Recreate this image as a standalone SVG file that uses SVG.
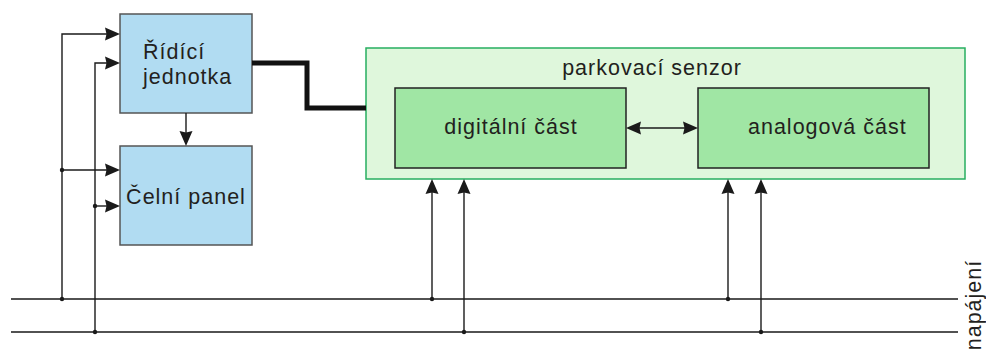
<svg xmlns="http://www.w3.org/2000/svg" xmlns:xlink="http://www.w3.org/1999/xlink" width="986" height="354" viewBox="0 0 986 354">
<defs>
<path id="ah" d="M-15,-6.5 L0,0 L-15,6.5 L-13.5,0 z" fill="#1a1a1a"/>
<style>
.t{font-family:"Liberation Sans",Arial,sans-serif;font-size:21.5px;fill:#231f20;letter-spacing:1px}
.blue{fill:#b1dcf2;stroke:#555;stroke-width:1.5}
.outer{fill:#dff7dc;stroke:#27ae60;stroke-width:1.5}
.inner{fill:#a0e6a4;stroke:#222;stroke-width:1.5}
.ln{fill:none;stroke:#1a1a1a;stroke-width:1.4}
.dot{fill:#1a1a1a}
</style>
</defs>
<rect width="986" height="354" fill="#fff"/>
<g id="ridici-jednotka">
<rect class="blue" x="120" y="14" width="132" height="99"/>
<text class="t" x="143" y="59">Řídící</text>
<text class="t" x="143" y="84">jednotka</text>
</g>
<g id="celni-panel">
<rect class="blue" x="120" y="146" width="132" height="99"/>
<text class="t" x="186" y="204" text-anchor="middle">Čelní panel</text>
</g>
<g id="parkovaci-senzor">
<rect class="outer" x="366" y="48" width="599" height="131"/>
<text class="t" x="652" y="75" text-anchor="middle">parkovací senzor</text>
</g>
<g id="digitalni-cast">
<rect class="inner" x="395" y="88" width="231" height="80"/>
<text class="t" x="511" y="134" text-anchor="middle">digitální část</text>
</g>
<g id="analogova-cast">
<rect class="inner" x="698" y="88" width="231" height="80"/>
<text class="t" x="748" y="134">analogová část</text>
</g>
<g id="napajeni">
<text class="t" transform="translate(981,305) rotate(-90)" text-anchor="middle">napájení</text>
</g>
<g id="connectors">
<path class="ln" d="M11,299 H958 M11,332 H958"/>
<path class="ln" d="M62,299 V34 H108"/>
<path class="ln" d="M95,332 V63 H108"/>
<path class="ln" d="M62,170 H108"/>
<path class="ln" d="M95,206 H108"/>
<path class="ln" d="M186,113 V134"/>
<path d="M252,63 H307 V108 H366" fill="none" stroke="#111" stroke-width="5"/>
<path class="ln" d="M638,128 H686"/>
<path class="ln" d="M432,299 V191"/>
<path class="ln" d="M464,332 V191"/>
<path class="ln" d="M728,299 V191"/>
<path class="ln" d="M761,332 V191"/>
<use xlink:href="#ah" href="#ah" transform="translate(120,34)"/>
<use xlink:href="#ah" href="#ah" transform="translate(120,63)"/>
<use xlink:href="#ah" href="#ah" transform="translate(120,170)"/>
<use xlink:href="#ah" href="#ah" transform="translate(120,206)"/>
<use xlink:href="#ah" href="#ah" transform="translate(186,146) rotate(90)"/>
<use xlink:href="#ah" href="#ah" transform="translate(698,128)"/>
<use xlink:href="#ah" href="#ah" transform="translate(626,128) rotate(180)"/>
<use xlink:href="#ah" href="#ah" transform="translate(432,179) rotate(-90)"/>
<use xlink:href="#ah" href="#ah" transform="translate(464,179) rotate(-90)"/>
<use xlink:href="#ah" href="#ah" transform="translate(728,179) rotate(-90)"/>
<use xlink:href="#ah" href="#ah" transform="translate(761,179) rotate(-90)"/>
<circle class="dot" cx="62" cy="170" r="2.2"/>
<circle class="dot" cx="95" cy="206" r="2.2"/>
<circle class="dot" cx="62" cy="299" r="2.2"/>
<circle class="dot" cx="95" cy="332" r="2.2"/>
<circle class="dot" cx="432" cy="299" r="2.2"/>
<circle class="dot" cx="464" cy="332" r="2.2"/>
<circle class="dot" cx="728" cy="299" r="2.2"/>
<circle class="dot" cx="761" cy="332" r="2.2"/>
</g>
</svg>
